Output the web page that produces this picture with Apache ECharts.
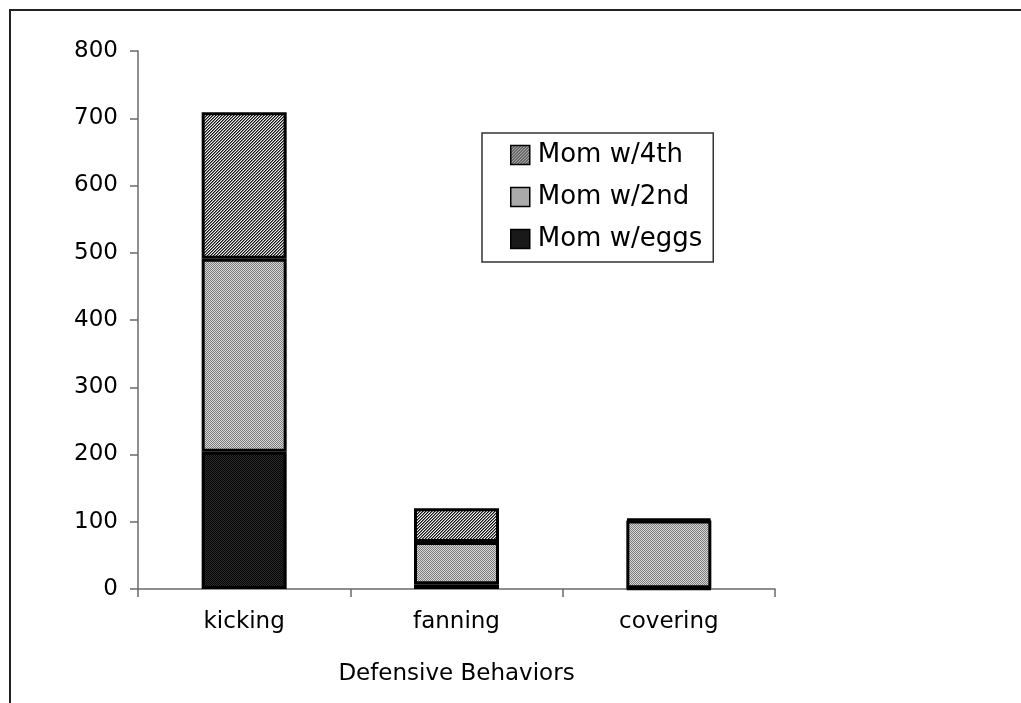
<!DOCTYPE html>
<html>
<head>
<meta charset="utf-8">
<script src="https://cdn.jsdelivr.net/npm/echarts@6/dist/echarts.min.js"></script>
<style>
  html, body { margin: 0; padding: 0; background: #fff; }
  #chart { width: 1021px; height: 703px; }
</style>
</head>
<body>
<div id="chart"></div>
<script>
// Defensive behaviour counts per mother group
const categories = ['kicking', 'fanning', 'covering'];
const momEggs = [204, 7, 1];
const mom2nd = [287, 63, 101];
const mom4th = [218, 50, 2];
const seriesNames = ['Mom w/eggs', 'Mom w/2nd', 'Mom w/4th'];

// Small pixel tiles used as fill patterns
function makeTile(size, pick) {
  const c = document.createElement('canvas');
  c.width = size; c.height = size;
  const ctx = c.getContext('2d');
  const img = ctx.createImageData(size, size);
  for (let y = 0; y < size; y++) {
    for (let x = 0; x < size; x++) {
      const v = pick(x, y);
      const i = (y * size + x) * 4;
      img.data[i] = v; img.data[i + 1] = v; img.data[i + 2] = v; img.data[i + 3] = 255;
    }
  }
  ctx.putImageData(img, 0, 0);
  return c;
}
// diagonal hatching for the top segment
const hatch = makeTile(3, (x, y) => ((x + y) % 3 === 0 ? 20 : ((x + y) % 3 === 1 ? 120 : 240)));
// light grey stipple for the middle segment
const stipple = makeTile(2, (x, y) => ((x + y) % 2 === 0 ? 125 : 215));
// near-black stipple for the bottom segment
const dark = makeTile(2, (x, y) => ((x + y) % 2 === 0 ? 5 : 45));

const fills = [dark, stipple, hatch];
const values = [momEggs, mom2nd, mom4th];

const chart = echarts.init(document.getElementById('chart'), null, { renderer: 'canvas' });
const font = 'DejaVu Sans';

chart.setOption({
  animation: false,
  backgroundColor: '#ffffff',
  textStyle: { fontFamily: font },
  graphic: [{
    type: 'polyline',
    shape: { points: [[10, 703], [10, 10], [1021, 10]] },
    style: { stroke: '#222', lineWidth: 2, fill: null }
  }],
  grid: { left: 138, right: 246, top: 51, bottom: 114, containLabel: false },
  legend: {
    orient: 'vertical',
    left: 482,
    top: 133,
    data: ['Mom w/4th', 'Mom w/2nd', 'Mom w/eggs'],
    icon: 'rect',
    padding: [9, 11, 10, 28],
    itemGap: 16,
    itemWidth: 19,
    itemHeight: 19,
    backgroundColor: '#fff',
    borderColor: '#333',
    borderWidth: 1.5,
    borderRadius: 0,
    itemStyle: { borderColor: '#000', borderWidth: 1.5 },
    textStyle: { fontFamily: font, fontSize: 26, color: '#000', lineHeight: 26, padding: [0, 0, 0, 3] }
  },
  xAxis: {
    type: 'category',
    data: categories,
    name: 'Defensive Behaviors',
    nameLocation: 'middle',
    nameGap: 74,
    nameTextStyle: { fontFamily: font, fontSize: 23, color: '#000' },
    axisLine: { lineStyle: { color: '#6a6a6a', width: 1.5 } },
    axisTick: { show: true, alignWithLabel: false, length: 8, lineStyle: { color: '#6a6a6a', width: 1.5 } },
    axisLabel: { fontFamily: font, fontSize: 23, color: '#000', margin: 22 }
  },
  yAxis: {
    type: 'value',
    min: 0,
    max: 800,
    interval: 100,
    splitLine: { show: false },
    axisLine: { show: true, lineStyle: { color: '#6a6a6a', width: 1.5 } },
    axisTick: { show: true, length: 8, lineStyle: { color: '#6a6a6a', width: 1.5 } },
    axisLabel: { fontFamily: font, fontSize: 23, color: '#000', margin: 20 }
  },
  series: seriesNames.map((name, k) => ({
    name: name,
    type: 'bar',
    stack: 'total',
    barWidth: 85,
    data: values[k],
    itemStyle: {
      color: { image: fills[k], repeat: 'repeat' },
      borderColor: '#000',
      borderWidth: 3
    }
  }))
});
</script>
</body>
</html>
